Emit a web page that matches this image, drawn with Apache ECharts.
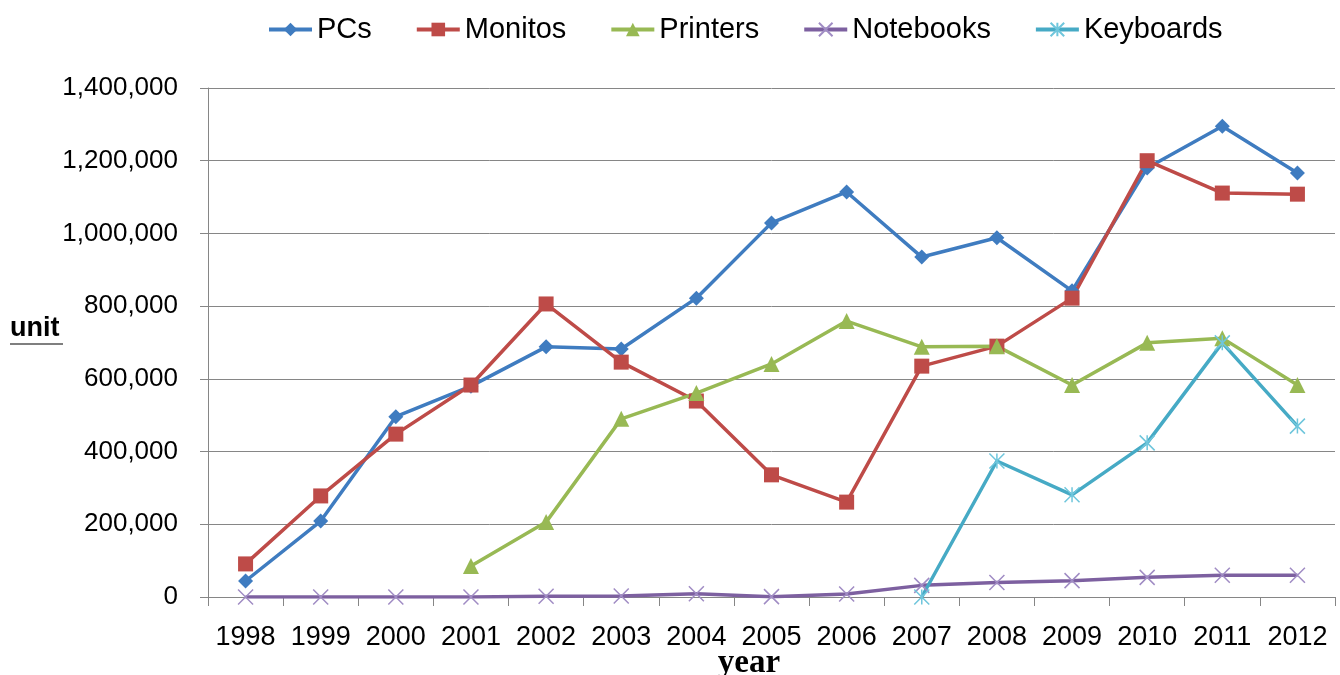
<!doctype html>
<html lang="en">
<head>
    <meta charset="UTF-8">
    <title>Units per year</title>
    <script type="text/javascript" src="https://cdn.jsdelivr.net/npm/echarts@6/dist/echarts.min.js"></script>
    <style>
        html, body { margin: 0; padding: 0; background: #fff; }
        #main { width: 1340px; height: 675px; }
    </style>
</head>
<body>
<div id="main"></div>
<script>
    // 数据
    var years = ['1998', '1999', '2000', '2001', '2002', '2003', '2004', '2005',
                 '2006', '2007', '2008', '2009', '2010', '2011', '2012'];
    var pcs = [44000, 209000, 496000, 580000, 688000, 682000, 822000, 1029000,
               1114000, 935000, 988000, 842000, 1180000, 1295000, 1166000];
    var monitos = [91000, 278000, 448000, 583000, 806000, 646000, 539000, 336000,
                   261000, 635000, 690000, 822000, 1200000, 1111000, 1108000];
    var printers = [null, null, null, 85000, 206000, 490000, 561000, 641000,
                    759000, 688000, 690000, 583000, 699000, 712000, 583000];
    var notebooks = [0, 0, 0, 0, 2000, 3000, 9000, 1000,
                     8000, 32000, 40000, 45000, 54000, 60000, 60000];
    var keyboards = [null, null, null, null, null, null, null, null,
                     null, 0, 374000, 281000, 424000, 699000, 470000];
    var yTicks = [0, 200000, 400000, 600000, 800000, 1000000, 1200000, 1400000];

    var font = '"Liberation Sans", Arial, sans-serif';
    var gridColor = '#868686';

    function lineSeries(name, data, color, symbol, size, markerStyle) {
        return {
            name: name,
            type: 'line',
            data: data,
            symbol: symbol,
            symbolSize: size,
            showAllSymbol: true,
            connectNulls: false,
            lineStyle: {color: color, width: 3.5},
            itemStyle: markerStyle || {color: color},
            emphasis: {disabled: true},
            z: 3
        };
    }

    var myChart = echarts.init(document.getElementById('main'));
    var option = {
        backgroundColor: '#fff',
        animation: false,
        legend: {
            left: 262,
            top: 10,
            itemWidth: 43,
            itemHeight: 17,
            itemGap: 43,
            lineStyle: {width: 4},
            textStyle: {fontFamily: font, fontSize: 29, color: '#000'},
            data: ['PCs', 'Monitos', 'Printers', 'Notebooks', 'Keyboards']
        },
        grid: {left: 208, right: 5, top: 88, bottom: 78, containLabel: false},
        xAxis: {
            type: 'category',
            boundaryGap: true,
            data: years,
            axisLine: {lineStyle: {color: gridColor, width: 1}},
            axisTick: {show: true, length: 9, lineStyle: {color: gridColor}},
            axisLabel: {fontFamily: font, fontSize: 27, color: '#000', margin: 27, interval: 0}
        },
        yAxis: {
            type: 'value',
            min: yTicks[0],
            max: yTicks[yTicks.length - 1],
            interval: yTicks[1] - yTicks[0],
            axisLine: {show: true, lineStyle: {color: gridColor, width: 1}},
            axisTick: {show: true, length: 8, lineStyle: {color: gridColor}},
            splitLine: {lineStyle: {color: gridColor, width: 1}},
            axisLabel: {
                fontFamily: font, fontSize: 26, color: '#000', margin: 30,
                formatter: function (v) { return v.toLocaleString('en-US'); }
            }
        },
        graphic: [
            {
                type: 'text', left: 10, top: 315,
                style: {text: 'unit', font: 'bold 27px "Liberation Sans", Arial, sans-serif', fill: '#000'}
            },
            {
                type: 'line',
                shape: {x1: 10, y1: 344, x2: 63, y2: 344},
                style: {stroke: '#7f7f7f', lineWidth: 2}
            },
            {
                type: 'text', x: 749, y: 663,
                style: {
                    text: 'year', font: 'bold 33px "Liberation Serif", "Times New Roman", serif',
                    fill: '#000', align: 'center', verticalAlign: 'middle'
                }
            }
        ],
        series: [
            lineSeries('PCs', pcs, '#3F7CC0', 'diamond', 15),
            lineSeries('Monitos', monitos, '#BE4B48', 'rect', 15),
            lineSeries('Printers', printers, '#98B954', 'triangle', 16),
            lineSeries('Notebooks', notebooks, '#7D60A0', 'path://M0,0L10,10M10,0L0,10', 15,
                {color: 'transparent', borderColor: '#A08CC4', borderWidth: 1.5}),
            lineSeries('Keyboards', keyboards, '#46AAC5', 'path://M0,0L10,10M10,0L0,10M5,0L5,10', 15,
                {color: 'transparent', borderColor: '#6FC6DC', borderWidth: 1.5})
        ]
    };
    myChart.setOption(option);
</script>
</body>
</html>
